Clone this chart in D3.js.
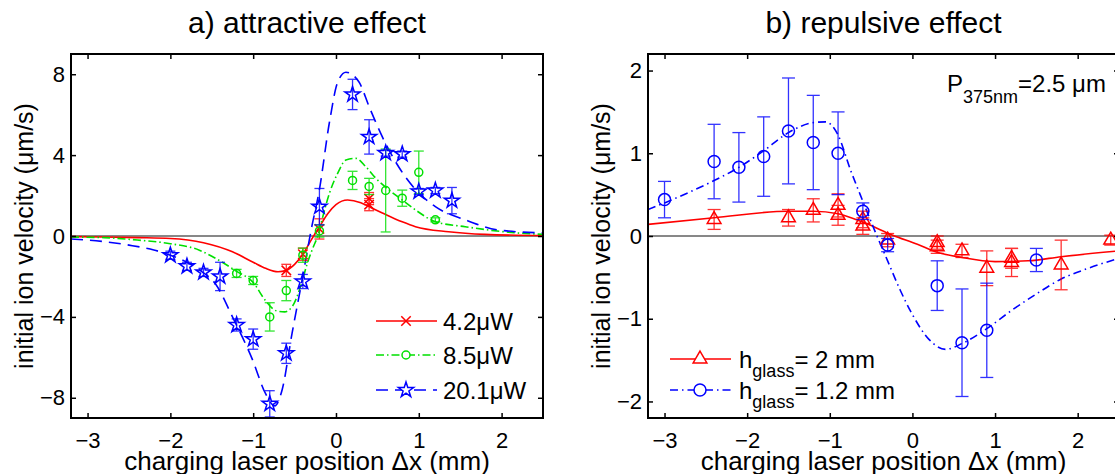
<!DOCTYPE html>
<html><head><meta charset="utf-8">
<script src="https://cdn.jsdelivr.net/npm/d3@7"></script>
<style>
body{margin:0;background:#fff}
text{font-family:"Liberation Sans",Arial,Helvetica,sans-serif;fill:#000}
</style>
</head><body>
<svg id="c" width="1115" height="474"></svg>
<script>
// ---------- data ----------
const xDomain = [-3.2, 2.5];
const xTicks = [-3, -2, -1, 0, 1, 2];
const yDomainA = [-9, 9];
const yTicksA = [-8, -4, 0, 4, 8];
const yDomainB = [-2.2, 2.2];
const yTicksB = [-2, -1, 0, 1, 2];
const titles = ["a) attractive effect", "b) repulsive effect"];
const xLabel = "charging laser position Δx (mm)";
const yLabel = "initial ion velocity (μm/s)";
const legendA = ["4.2μW", "8.5μW", "20.1μW"];
const legendB = [["h", "glass", "= 2 mm"], ["h", "glass", "= 1.2 mm"]];
const annot = ["P", "375nm", "=2.5 μm"];

// panel a: measured points [x, y, err]
const pts42 = [[-0.6,-1.7,0.3],[-0.4,-0.9,0.3],[-0.2,0.35,0.5],[0.4,1.85,0.3],[0.4,1.55,0.3]];
const pts85 = [[-1.2,-1.85,0.2],[-1.0,-2.2,0.2],[-0.8,-4.0,0.7],[-0.6,-2.7,0.5],[-0.4,-0.95,0.35],[-0.2,0.25,0.3],
  [0.2,2.75,0.45],[0.4,2.45,0.4],[0.6,2.25,2.05],[0.8,1.87,0.4],[1.0,3.15,1.05],[1.2,0.8,0.1]];
const pts201 = [[-2.0,-0.95,0.2],[-1.8,-1.5,0.2],[-1.6,-1.8,0.2],[-1.4,-2.0,0.7],[-1.2,-4.4,0.3],[-1.0,-5.1,0.5],
  [-0.8,-8.3,0.65],[-0.6,-5.8,0.5],[-0.4,-2.25,0.35],[-0.2,1.45,0.9],[0.2,7.0,0.75],[0.4,4.9,0.85],
  [0.6,4.1,0.15],[0.8,4.05,0.15],[1.0,2.2,0.15],[1.2,2.25,0.15],[1.4,1.75,0.65]];
// panel a: model curves [x, y]
const fit42 = [[-3.2,-0.03],[-2.8,-0.05],[-2.4,-0.08],[-2.0,-0.12],[-1.6,-0.33],[-1.25,-0.78],[-1.0,-1.3],
  [-0.85,-1.6],[-0.7,-1.77],[-0.6,-1.7],[-0.5,-1.4],[-0.4,-0.9],[-0.3,-0.2],[-0.2,0.45],[-0.1,1.1],[0,1.55],
  [0.14,1.78],[0.3,1.65],[0.45,1.35],[0.56,1.14],[0.8,0.7],[0.96,0.46],[1.36,0.21],[1.8,0.08],[2.5,0.02]];
const fit85 = [[-3.2,-0.05],[-2.8,-0.08],[-2.4,-0.2],[-2.0,-0.38],[-1.65,-0.7],[-1.5,-1.0],[-1.2,-1.75],
  [-1.0,-2.3],[-0.85,-3.2],[-0.72,-3.7],[-0.62,-3.75],[-0.53,-3.5],[-0.42,-2.4],[-0.35,-1.4],[-0.28,-0.6],
  [-0.22,0.0],[-0.15,1.1],[-0.08,2.1],[0.02,3.1],[0.12,3.76],[0.24,3.84],[0.36,3.43],[0.48,2.86],[0.64,2.28],
  [0.8,1.78],[0.96,1.29],[1.2,0.71],[1.56,0.46],[2.16,0.16],[2.5,0.08]];
const fit201 = [[-3.2,-0.15],[-3.0,-0.2],[-2.5,-0.45],[-2.2,-0.69],[-2.0,-0.95],[-1.8,-1.3],[-1.65,-1.68],
  [-1.45,-2.4],[-1.25,-4.0],[-1.01,-6.1],[-0.85,-7.8],[-0.74,-8.4],[-0.65,-7.6],[-0.53,-4.8],[-0.41,-2.2],
  [-0.3,0.3],[-0.2,2.3],[-0.08,5.6],[0.02,7.6],[0.12,8.1],[0.28,7.6],[0.4,6.4],[0.56,4.9],[0.76,3.4],
  [0.96,2.3],[1.2,1.45],[1.56,0.8],[1.96,0.3],[2.5,0.15]];

// panel b: measured points [x, y, err]
const ptsH2 = [[-2.4,0.2,0.12],[-1.5,0.22,0.1],[-1.2,0.31,0.14],[-0.9,0.37,0.14],[-0.9,0.25,0.12],
  [-0.6,0.2,0.1],[-0.6,0.12,0.1],[-0.3,-0.05,0.08],[0.3,-0.08,0.08],[0.3,-0.13,0.08],[0.6,-0.18,0.08],
  [0.9,-0.39,0.21],[1.2,-0.27,0.12],[1.2,-0.32,0.17],[1.8,-0.35,0.3],[2.4,-0.05,0.06]];
const ptsH12 = [[-3.0,0.44,0.22],[-2.4,0.9,0.45],[-2.1,0.83,0.42],[-1.8,0.96,0.48],[-1.5,1.27,0.64],
  [-1.2,1.13,0.57],[-0.9,1.0,0.5],[-0.6,0.3,0.1],[-0.3,-0.11,0.08],[0.3,-0.6,0.3],[0.6,-1.29,0.65],
  [0.9,-1.14,0.57],[1.5,-0.29,0.14]];
// panel b: model curves
const fitH2 = [[-3.2,0.14],[-2.4,0.22],[-1.5,0.3],[-1.2,0.3],[-0.9,0.27],[-0.56,0.15],[-0.24,0.01],
  [0.06,-0.1],[0.28,-0.19],[0.6,-0.26],[1.0,-0.31],[1.4,-0.3],[1.8,-0.25],[2.5,-0.18]];
const fitH12 = [[-3.2,0.32],[-3.0,0.4],[-2.7,0.53],[-2.4,0.67],[-2.1,0.83],[-1.8,1.03],[-1.5,1.25],
  [-1.2,1.37],[-1.05,1.38],[-0.9,1.22],[-0.75,0.8],[-0.6,0.42],[-0.45,0.05],[-0.3,-0.3],[-0.15,-0.65],
  [0,-0.95],[0.2,-1.25],[0.4,-1.37],[0.6,-1.3],[0.9,-1.12],[1.2,-0.9],[1.5,-0.7],[1.8,-0.52],[2.1,-0.4],
  [2.5,-0.27]];

// ---------- drawing ----------
const RED = "#ff0000", GREEN = "#00e000", BLUE = "#0000ff";
const TOP = 54, BOTTOM = 418;
const svg = d3.select("#c");
const fmt = d3.format("d");

const sym = {
  x: d3.symbol().type(d3.symbolX).size(60)(),
  circS: d3.symbol().type(d3.symbolCircle).size(Math.PI * 16)(),
  circL: d3.symbol().type(d3.symbolCircle).size(Math.PI * 36)(),
  star: d3.symbol().type(d3.symbolStar).size(72)(),
  tri: d3.symbol().type(d3.symbolTriangle2).size(135)()
};

function panel(o) {
  const x = d3.scaleLinear().domain(xDomain).range([o.l, o.r]);
  const y = d3.scaleLinear().domain(o.yd).range([BOTTOM, TOP]);
  const g = svg.append("g");
  const cid = "clip" + o.id;
  svg.append("clipPath").attr("id", cid).append("rect")
    .attr("x", o.l).attr("y", TOP).attr("width", o.r - o.l).attr("height", BOTTOM - TOP);
  const body = g.append("g").attr("clip-path", `url(#${cid})`);

  body.append("line").attr("x1", o.l).attr("x2", o.r).attr("y1", y(0)).attr("y2", y(0))
    .attr("stroke", "#111").attr("stroke-width", 1);

  const line = d3.line().x(d => x(d[0])).y(d => y(d[1])).curve(d3.curveMonotoneX);
  o.series.forEach(s => {
    body.append("path").datum(s.fit).attr("d", line).attr("fill", "none")
      .attr("stroke", s.color).attr("stroke-width", 1.6)
      .attr("stroke-dasharray", s.dash || null);
  });
  o.series.forEach(s => {
    const eg = body.append("g").attr("stroke", s.color).attr("stroke-width", 1.3).attr("opacity", 0.8);
    s.pts.forEach(p => {
      const cx = x(p[0]), y1 = y(p[1] - p[2]), y2 = y(p[1] + p[2]);
      eg.append("line").attr("x1", cx).attr("x2", cx).attr("y1", y1).attr("y2", y2);
      eg.append("line").attr("x1", cx - o.cap).attr("x2", cx + o.cap).attr("y1", y1).attr("y2", y1);
      eg.append("line").attr("x1", cx - o.cap).attr("x2", cx + o.cap).attr("y1", y2).attr("y2", y2);
    });
    body.append("g").selectAll("path").data(s.pts).join("path")
      .attr("d", s.sym).attr("transform", p => `translate(${x(p[0])},${y(p[1])})`)
      .attr("fill", "none").attr("stroke", s.color).attr("stroke-width", 1.5);
  });

  // axes
  const ax = g.append("g");
  const style = sel => {
    sel.select(".domain").remove();
    sel.selectAll(".tick line").attr("stroke", "#000").attr("stroke-width", 1.5);
    sel.selectAll("text").attr("fill", "#000").attr("font-family", "Liberation Sans, Arial, sans-serif").attr("font-size", 22);
  };
  ax.append("g").attr("transform", `translate(0,${BOTTOM})`)
    .call(d3.axisBottom(x).tickValues(xTicks).tickFormat(fmt).tickSizeInner(-5).tickSizeOuter(0).tickPadding(14)).call(style);
  ax.append("g").attr("transform", `translate(0,${TOP})`)
    .call(d3.axisTop(x).tickValues(xTicks).tickSizeInner(-5).tickSizeOuter(0).tickFormat("")).call(style);
  ax.append("g").attr("transform", `translate(${o.l},0)`)
    .call(d3.axisLeft(y).tickValues(o.yt).tickFormat(fmt).tickSizeInner(-5).tickSizeOuter(0).tickPadding(6)).call(style);
  ax.append("g").attr("transform", `translate(${o.r},0)`)
    .call(d3.axisRight(y).tickValues(o.yt).tickSizeInner(-5).tickSizeOuter(0).tickFormat("")).call(style);
  g.append("rect").attr("x", o.l).attr("y", TOP).attr("width", o.r - o.l).attr("height", BOTTOM - TOP)
    .attr("fill", "none").attr("stroke", "#000").attr("stroke-width", 2);

  g.append("text").attr("x", (o.l + o.r) / 2).attr("y", 33).attr("text-anchor", "middle")
    .attr("font-size", 30).text(o.title);
  g.append("text").attr("x", (o.l + o.r) / 2).attr("y", 470).attr("text-anchor", "middle")
    .attr("font-size", 26).text(xLabel);
  g.append("text").attr("transform", `translate(${o.yl},${(TOP + BOTTOM) / 2}) rotate(-90)`)
    .attr("text-anchor", "middle").attr("font-size", 25).text(yLabel);
  return {x, y, g};
}

const A = panel({
  id: "a", l: 71, r: 543, yd: yDomainA, yt: yTicksA, title: titles[0], yl: 33, cap: 5,
  series: [
    {pts: pts42, fit: fit42, color: RED, sym: sym.x},
    {pts: pts85, fit: fit85, color: GREEN, sym: sym.circS, dash: "8,3,1.5,3"},
    {pts: pts201, fit: fit201, color: BLUE, sym: sym.star, dash: "12,7"}
  ]
});
const B = panel({
  id: "b", l: 648, r: 1119, yd: yDomainB, yt: yTicksB, title: titles[1], yl: 610, cap: 6.5,
  series: [
    {pts: ptsH2, fit: fitH2, color: RED, sym: sym.tri},
    {pts: ptsH12, fit: fitH12, color: BLUE, sym: sym.circL, dash: "8,4,1.5,4"}
  ]
});

// legend a
const legA = [
  {y: 321, color: RED, sym: sym.x, dash: null},
  {y: 355, color: GREEN, sym: sym.circS, dash: "8,3,1.5,3"},
  {y: 390, color: BLUE, sym: sym.star, dash: "12,7"}
];
legA.forEach((d, i) => {
  A.g.append("line").attr("x1", 376).attr("x2", 437).attr("y1", d.y).attr("y2", d.y)
    .attr("stroke", d.color).attr("stroke-width", 1.6).attr("stroke-dasharray", d.dash);
  A.g.append("path").attr("d", d.sym).attr("transform", `translate(406,${d.y})`)
    .attr("fill", "#fff").attr("stroke", d.color).attr("stroke-width", 1.5);
  A.g.append("text").attr("x", 443).attr("y", d.y + 8.5).attr("font-size", 24).text(legendA[i]);
});

// legend b
const legB = [
  {y: 359, color: RED, sym: sym.tri, dash: null},
  {y: 390, color: BLUE, sym: sym.circL, dash: "8,4,1.5,4"}
];
legB.forEach((d, i) => {
  B.g.append("line").attr("x1", 670).attr("x2", 731).attr("y1", d.y).attr("y2", d.y)
    .attr("stroke", d.color).attr("stroke-width", 1.6).attr("stroke-dasharray", d.dash);
  B.g.append("path").attr("d", d.sym).attr("transform", `translate(700,${d.y})`)
    .attr("fill", "#fff").attr("stroke", d.color).attr("stroke-width", 1.5);
  const t = B.g.append("text").attr("x", 739).attr("y", d.y + 9).attr("font-size", 24);
  t.append("tspan").text(legendB[i][0]);
  t.append("tspan").attr("dy", 9).attr("font-size", 18).text(legendB[i][1]);
  t.append("tspan").attr("dy", -9).text(legendB[i][2]);
});

// annotation b
const at = B.g.append("text").attr("x", 947).attr("y", 92).attr("font-size", 24);
at.append("tspan").text(annot[0]);
at.append("tspan").attr("dy", 11).attr("font-size", 18).text(annot[1]);
at.append("tspan").attr("dy", -11).text(annot[2]);
</script>
</body></html>
